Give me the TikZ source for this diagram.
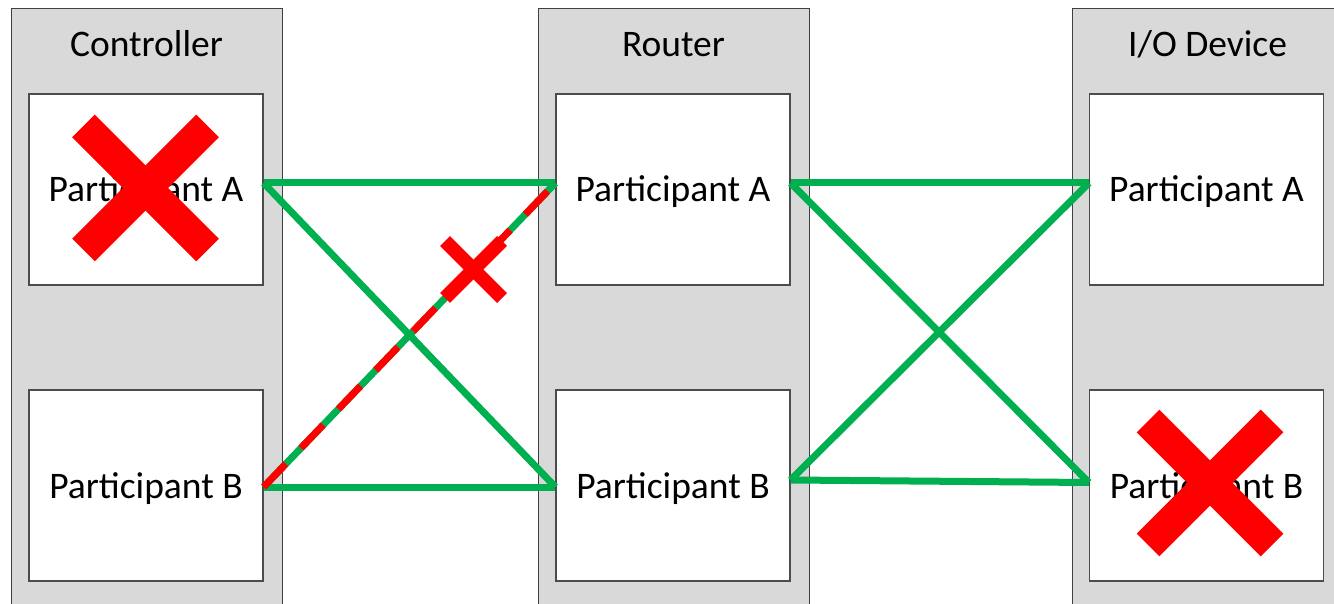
\documentclass[tikz,border=0pt]{standalone}
\usepackage{fontspec}
\setmainfont{Carlito}
\definecolor{lgreen}{HTML}{00B050}
\definecolor{xred}{HTML}{FF0000}
\definecolor{colgray}{HTML}{D9D9D9}
\begin{document}
\begin{tikzpicture}[x=1pt,y=-1pt,
  col/.style={draw=black!75, fill=colgray, line width=1.2pt, minimum width=271pt, minimum height=640pt, inner sep=0pt, anchor=north west},
  pbox/.style={draw=black!70, fill=white, line width=1.2pt, minimum width=234pt, minimum height=191pt, inner sep=0pt},
  ttl/.style={font=\fontsize{37.5}{45}\selectfont, inner sep=0pt, anchor=base},
  lbl/.style={font=\fontsize{37.5}{45}\selectfont, inner sep=0pt, anchor=base},
  link/.style={draw=lgreen, line width=7pt},
  bad/.style={draw=xred, line width=7pt, dash pattern=on 32pt off 22pt},
  bigx/.style={draw=xred, line width=32pt},
  smallx/.style={draw=xred, line width=14pt}]
\useasboundingbox (0,0) rectangle (1334,604);
\clip (0,0) rectangle (1334,604);
% columns
\node[col] (colC) at (11,8) {};
\node[col] (colR) at (538,8) {};
\node[col] (colI) at (1072,8) {};
% titles
\node[ttl] (tC) at (146.5,57) {Controller};
\node[ttl] (tR) at (673.5,57) {Router};
\node[ttl] (tI) at (1207.5,57) {I/O Device};
% participant boxes
\node[pbox] (cA) at (146,189.5) {};
\node[pbox] (cB) at (146,485.5) {};
\node[pbox] (rA) at (673,189.5) {};
\node[pbox] (rB) at (673,485.5) {};
\node[pbox] (iA) at (1206.5,189.5) {};
\node[pbox] (iB) at (1206.5,485.5) {};
% labels
\node[lbl] (lcA) at ([yshift=-12.5pt]cA.center) {Participant A};
\node[lbl] (lcB) at ([yshift=-12.5pt]cB.center) {Participant B};
\node[lbl] (lrA) at ([yshift=-12.5pt]rA.center) {Participant A};
\node[lbl] (lrB) at ([yshift=-12.5pt]rB.center) {Participant B};
\node[lbl] (liA) at ([yshift=-12.5pt]iA.center) {Participant A};
\node[lbl] (liB) at ([yshift=-12.5pt]iB.center) {Participant B};
% links controller - router
\draw[link] ([yshift=6.5pt]cA.east) -- ([yshift=6.5pt]rA.west);
\draw[link] ([yshift=6.5pt]cA.east) -- ([yshift=-1.5pt]rB.west);
\draw[link] ([yshift=-1.5pt]cB.east) -- ([yshift=-1.5pt]rB.west);
\draw[link] ([yshift=-1.5pt]cB.east) -- ([yshift=6.5pt]rA.west);
\draw[bad] ([yshift=-1.5pt]cB.east) -- ([yshift=6.5pt]rA.west);
% links router - I/O device
\draw[link] ([yshift=6.5pt]rA.east) -- ([yshift=6.5pt]iA.west);
\draw[link] ([yshift=6.5pt]rA.east) -- ([yshift=3pt]iB.west);
\draw[link] ([yshift=5.5pt]rB.east) -- ([yshift=3pt]iB.west);
\draw[link] ([yshift=5.5pt]rB.east) -- ([yshift=6.5pt]iA.west);
% red crosses
\coordinate (x1) at (145.5,188);
\coordinate (x2) at (1210,483);
\coordinate (x3) at (473.5,269.5);
\draw[bigx] ([shift={(-62,-62)}]x1) -- ([shift={(62,62)}]x1);
\draw[bigx] ([shift={(-62,62)}]x1) -- ([shift={(62,-62)}]x1);
\draw[bigx] ([shift={(-62,-62)}]x2) -- ([shift={(62,62)}]x2);
\draw[bigx] ([shift={(-62,62)}]x2) -- ([shift={(62,-62)}]x2);
\draw[smallx] ([shift={(-28.5,-28.5)}]x3) -- ([shift={(28.5,28.5)}]x3);
\draw[smallx] ([shift={(-28.5,28.5)}]x3) -- ([shift={(28.5,-28.5)}]x3);
\end{tikzpicture}
\end{document}
